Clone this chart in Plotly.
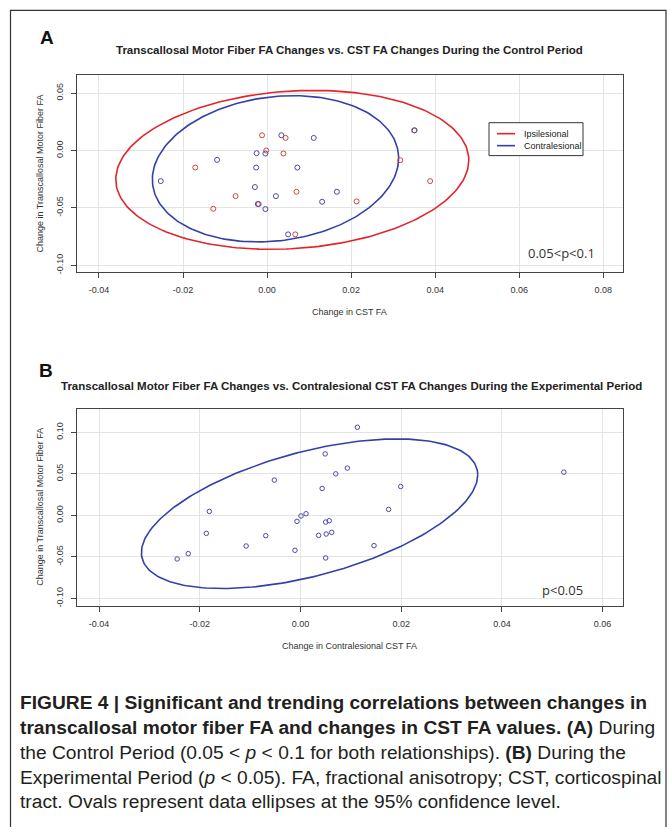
import numpy as np
import plotly.graph_objects as go

W, H = 670, 827

# ---------------- Data ----------------
# Panel A: Control period
a_ipsi_x = [-0.0012, 0.0044, -0.0002, 0.0039, -0.0171, -0.0075, -0.0128, -0.0020,
            0.0070, 0.0067, 0.0213, 0.0350, 0.0317, 0.0388]
a_ipsi_y = [0.0133, 0.0110, 0.0000, -0.0026, -0.0148, -0.0397, -0.0507, -0.0466,
            -0.0359, -0.0730, -0.0443, 0.0176, -0.0084, -0.0266]
a_contra_x = [0.0034, 0.0111, -0.0025, -0.0004, -0.0119, -0.0026, 0.0072, -0.0253,
              -0.0029, 0.0021, 0.0166, 0.0131, -0.0022, -0.0004, 0.0050, 0.0351]
a_contra_y = [0.0133, 0.0110, -0.0023, -0.0026, -0.0081, -0.0148, -0.0148, -0.0266,
              -0.0318, -0.0397, -0.0359, -0.0446, -0.0466, -0.0510, -0.0730, 0.0176]

# Panel B: Experimental period
b_x = [0.0113, 0.0049, 0.0093, 0.0070, -0.0052, 0.0043, -0.0181, 0.0001, 0.0011,
       -0.0007, 0.0050, 0.0057, -0.0187, -0.0069, 0.0036, 0.0051, 0.0062, -0.0108,
       -0.0011, -0.0223, -0.0245, 0.0050, 0.0199, 0.0175, 0.0146, 0.0523]
b_y = [0.1061, 0.0740, 0.0569, 0.0500, 0.0425, 0.0324, 0.0048, -0.0007, 0.0020,
       -0.0072, -0.0080, -0.0064, -0.0216, -0.0244, -0.0240, -0.0224, -0.0204, -0.0368,
       -0.0420, -0.0460, -0.0524, -0.0512, 0.0348, 0.0072, -0.0364, 0.0521]

# 95% data ellipse parameters: center x, center y, half-width, half-height, correlation
ell_a_ipsi = [0.0060, -0.0168, 0.0420, 0.0692, 0.121]
ell_a_contra = [0.0020, -0.0159, 0.0293, 0.0637, 0.146]
ell_b = [0.0018, 0.0020, 0.0334, 0.0900, 0.52]

legend_names = ["Ipsilesional", "Contralesional"]

a_xticks = [-0.04, -0.02, 0.00, 0.02, 0.04, 0.06, 0.08]
a_xtick_text = ["-0.04", "-0.02", "0.00", "0.02", "0.04", "0.06", "0.08"]
a_yticks = [-0.10, -0.05, 0.00, 0.05]
a_ytick_text = ["-0.10", "-0.05", "0.00", "0.05"]
b_xticks = [-0.04, -0.02, 0.00, 0.02, 0.04, 0.06]
b_xtick_text = ["-0.04", "-0.02", "0.00", "0.02", "0.04", "0.06"]
b_yticks = [-0.10, -0.05, 0.00, 0.05, 0.10]
b_ytick_text = ["-0.10", "-0.05", "0.00", "0.05", "0.10"]


def ellipse(p, n=240):
    cx, cy, a, b, rho = p
    d = np.arccos(rho)
    t = np.linspace(0, 2 * np.pi, n)
    return cx + a * np.cos(t), cy + b * np.cos(t + d)


RED_LINE = "#e3242b"
BLUE_LINE = "#3440a8"
RED_PT = "#d0463f"
BLUE_PT = "#4a4aa6"
FONT = "Arial, Liberation Sans"

fig = go.Figure()

ex, ey = ellipse(ell_a_ipsi)
fig.add_trace(go.Scatter(x=ex, y=ey, mode="lines", line=dict(color=RED_LINE, width=1.6),
                         name=legend_names[0], showlegend=False, xaxis="x", yaxis="y", hoverinfo="skip"))
ex, ey = ellipse(ell_a_contra)
fig.add_trace(go.Scatter(x=ex, y=ey, mode="lines", line=dict(color=BLUE_LINE, width=1.6),
                         name=legend_names[1], showlegend=False, xaxis="x", yaxis="y", hoverinfo="skip"))
fig.add_trace(go.Scatter(x=a_ipsi_x, y=a_ipsi_y, mode="markers", showlegend=False,
                         marker=dict(symbol="circle-open", size=5, color=RED_PT, line=dict(width=1)),
                         xaxis="x", yaxis="y"))
fig.add_trace(go.Scatter(x=a_contra_x, y=a_contra_y, mode="markers", showlegend=False,
                         marker=dict(symbol="circle-open", size=5, color=BLUE_PT, line=dict(width=1)),
                         xaxis="x", yaxis="y"))

ex, ey = ellipse(ell_b)
fig.add_trace(go.Scatter(x=ex, y=ey, mode="lines", line=dict(color=BLUE_LINE, width=1.6),
                         showlegend=False, xaxis="x2", yaxis="y2", hoverinfo="skip"))
fig.add_trace(go.Scatter(x=b_x, y=b_y, mode="markers", showlegend=False,
                         marker=dict(symbol="circle-open", size=4.5, color=BLUE_PT, line=dict(width=1)),
                         xaxis="x2", yaxis="y2"))


def px(x):
    return x / W


def py(y):
    return 1 - y / H


axis_common = dict(showline=True, mirror=True, linecolor="#444", linewidth=1,
                   ticks="outside", ticklen=5, tickcolor="#444", tickwidth=1,
                   tickfont=dict(size=9, color="#333", family=FONT),
                   showgrid=True, gridcolor="#e4e4e4", gridwidth=1, zeroline=False)

fig.update_layout(
    width=W, height=H, margin=dict(l=0, r=0, t=0, b=0),
    paper_bgcolor="white", plot_bgcolor="white",
    font=dict(family=FONT, color="#222"),
    xaxis=dict(domain=[px(77.3), px(622.7)], range=[-0.04516, 0.08462],
               tickvals=a_xticks, ticktext=a_xtick_text, anchor="y",
               ticklabelstandoff=4, **axis_common),
    yaxis=dict(domain=[py(272.7), py(74.7)], range=[-0.1058, 0.0662],
               tickvals=a_yticks, ticktext=a_ytick_text, tickangle=-90, anchor="x",
               ticklabelstandoff=5, **axis_common),
    xaxis2=dict(domain=[px(77.3), px(622.7)], range=[-0.04433, 0.06399],
                tickvals=b_xticks, ticktext=b_xtick_text, anchor="y2",
                ticklabelstandoff=4, **axis_common),
    yaxis2=dict(domain=[py(607.3), py(409.5)], range=[-0.1088, 0.1286],
                tickvals=b_yticks, ticktext=b_ytick_text, tickangle=-90, anchor="x2",
                ticklabelstandoff=5, **axis_common),
    showlegend=False,
)

ann = []


def add_text(text, x, y, size, color="#222", family=FONT, angle=0,
             xanchor="center", yanchor="middle"):
    ann.append(dict(text=text, x=px(x), y=py(y), xref="paper", yref="paper",
                    showarrow=False, font=dict(size=size, color=color, family=family),
                    textangle=angle, xanchor=xanchor, yanchor=yanchor))


add_text("<b>A</b>", 47, 38, 19, color="#111")
add_text("<b>B</b>", 46, 371, 19, color="#111")
add_text("<b>Transcallosal Motor Fiber FA Changes vs. CST FA Changes During the Control Period</b>",
         350, 50, 11.5, color="#222")
add_text("<b>Transcallosal Motor Fiber FA Changes vs. Contralesional CST FA Changes During the Experimental Period</b>",
         351, 387, 11.5, color="#222")
add_text("Change in CST FA", 350, 313, 9, color="#333")
add_text("Change in Contralesional CST FA", 350, 648, 9, color="#333")
add_text("Change in Transcallosal Motor Fiber FA", 40, 174, 9, color="#333", angle=-90)
add_text("Change in Transcallosal Motor Fiber FA", 40, 508, 9, color="#333", angle=-90)
add_text("0.05&lt;p&lt;0.1", 561, 254, 13, color="#333", family="Open Sans")
add_text("p&lt;0.05", 562, 591, 13, color="#333", family="Open Sans")

# legend text
add_text(legend_names[0], 522, 134, 9, color="#222", xanchor="left")
add_text(legend_names[1], 522, 146, 9, color="#222", xanchor="left")

caption = [
    "<b>FIGURE 4 | Significant and trending correlations between changes in</b>",
    "<b>transcallosal motor fiber FA and changes in CST FA values. (A)</b> During",
    "the Control Period (0.05 &lt; <i>p</i> &lt; 0.1 for both relationships). <b>(B)</b> During the",
    "Experimental Period (<i>p</i> &lt; 0.05). FA, fractional anisotropy; CST, corticospinal",
    "tract. Ovals represent data ellipses at the 95% confidence level.",
]
cap_y = [704, 729, 754, 779, 803]
for t, yy in zip(caption, cap_y):
    add_text(t, 18, yy, 19.2, color="#231f20", xanchor="left")

fig.update_layout(annotations=ann)

fig.update_layout(shapes=[
    dict(type="rect", xref="paper", yref="paper", x0=px(10.5), x1=px(666), y0=-0.05, y1=py(10.5),
         line=dict(color="#333", width=1.2), fillcolor="rgba(0,0,0,0)", layer="below"),
    # legend box and keys
    dict(type="rect", xref="paper", yref="paper", x0=px(489), x1=px(583), y0=py(156), y1=py(123),
         line=dict(color="#333", width=1), fillcolor="white", layer="above"),
    dict(type="line", xref="paper", yref="paper", x0=px(497), x1=px(515), y0=py(134), y1=py(134),
         line=dict(color=RED_LINE, width=1.6), layer="above"),
    dict(type="line", xref="paper", yref="paper", x0=px(497), x1=px(515), y0=py(146), y1=py(146),
         line=dict(color=BLUE_LINE, width=1.6), layer="above"),
])

fig.write_html("out.html")
